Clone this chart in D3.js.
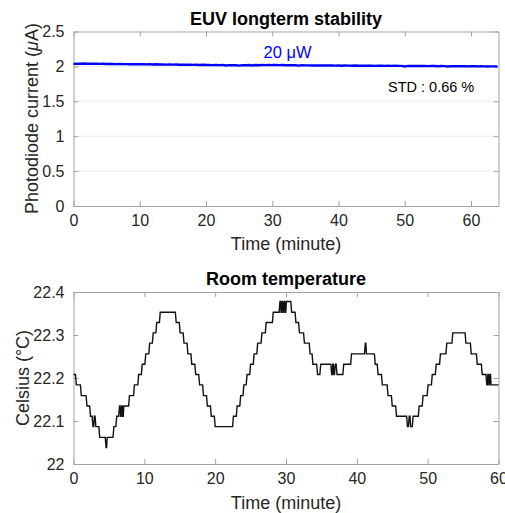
<!DOCTYPE html>
<html>
<head>
<meta charset="utf-8">
<script src="https://cdn.jsdelivr.net/npm/d3@7"></script>
<style>
  body { margin: 0; background: #fff; }
  text { font-family: "Liberation Sans", Arial, sans-serif; }
</style>
</head>
<body>
<div id="chart"></div>
<script>
// EUV photodiode current (uA), sampled every half minute
var euvTime = [0,0.5,1,1.5,2,2.5,3,3.5,4,4.5,5,5.5,6,6.5,7,7.5,8,8.5,9,9.5,10,10.5,
  11,11.5,12,12.5,13,13.5,14,14.5,15,15.5,16,16.5,17,17.5,18,18.5,19,19.5,20,20.5,21,21.5,
  22,22.5,23,23.5,24,24.5,25,25.5,26,26.5,27,27.5,28,28.5,29,29.5,30,30.5,31,31.5,32,32.5,
  33,33.5,34,34.5,35,35.5,36,36.5,37,37.5,38,38.5,39,39.5,40,40.5,41,41.5,42,42.5,43,43.5,
  44,44.5,45,45.5,46,46.5,47,47.5,48,48.5,49,49.5,50,50.5,51,51.5,52,52.5,53,53.5,54,54.5,
  55,55.5,56,56.5,57,57.5,58,58.5,59,59.5,60,60.5,61,61.5,62,62.5,63,63.5,64];
var euvCurrent = [2.036,2.040,2.039,2.041,2.038,2.039,2.037,2.038,2.036,2.037,2.035,
  2.034,2.035,2.033,2.034,2.032,2.033,2.031,2.033,2.030,2.032,2.031,
  2.029,2.031,2.028,2.030,2.027,2.029,2.026,2.028,2.025,2.027,2.024,
  2.025,2.023,2.025,2.022,2.023,2.021,2.023,2.020,2.022,2.019,2.021,
  2.018,2.019,2.012,2.018,2.016,2.017,2.011,2.018,2.016,2.019,2.013,
  2.019,2.016,2.020,2.018,2.021,2.019,2.020,2.018,2.019,2.017,2.018,
  2.016,2.017,2.011,2.016,2.014,2.015,2.013,2.015,2.012,2.014,2.013,
  2.012,2.013,2.011,2.012,2.010,2.012,2.011,2.010,2.012,2.009,2.011,
  2.010,2.009,2.011,2.008,2.010,2.009,2.008,2.010,2.007,2.009,2.008,
  2.007,1.999,2.008,2.006,2.007,2.005,2.007,2.006,2.004,2.006,2.005,
  2.003,2.005,2.004,1.998,2.004,2.003,2.002,2.004,2.003,2.001,2.003,
  2.002,2.000,2.002,2.001,1.999,2.001,2.000,1.999];

// room temperature (deg C): time of each sensor step and the level it steps to
var tempTime = [0,0.4,1.1,1.9,2.4,2.75,2.95,3.15,3.7,4.6,4.75,5.7,6.1,6.5,6.65,6.8,6.95,7.1,7.9,8.6,
  9.2,9.7,10.2,10.75,11.25,11.75,12.25,14.5,15.05,15.6,16.15,16.7,17.25,17.8,18.35,18.9,19.45,20.0,
  22.58,23.1,23.6,24.05,24.5,25.0,25.5,26.0,26.6,27.2,28.2,29.15,29.3,29.45,29.6,29.75,29.9,30.05,
  30.8,31.4,31.9,32.6,33.4,33.8,34.45,34.9,36.45,36.6,36.75,36.95,37.2,38.15,39.25,41.2,41.35,42.6,
  43.0,43.6,44.4,45.0,45.6,47.15,47.4,47.6,47.95,48.8,49.35,50.05,50.65,51.2,51.8,52.7,53.55,55.4,
  56.15,57.0,57.7,58.35,58.5,58.65,58.8,58.95,60];
var tempValue = [22.208,22.184,22.159,22.135,22.111,
  22.087,22.111,22.087,22.062,22.038,
  22.062,22.087,22.111,22.135,22.111,
  22.135,22.111,22.135,22.159,22.184,
  22.208,22.232,22.256,22.281,22.305,
  22.329,22.353,22.329,22.305,22.281,
  22.256,22.232,22.208,22.184,22.159,
  22.135,22.111,22.087,22.111,22.135,
  22.159,22.184,22.208,22.232,22.256,
  22.281,22.305,22.329,22.353,22.378,
  22.353,22.378,22.353,22.378,22.353,
  22.378,22.353,22.329,22.305,22.281,
  22.256,22.232,22.208,22.232,22.208,
  22.232,22.208,22.232,22.208,22.232,
  22.256,22.281,22.256,22.232,22.208,
  22.184,22.159,22.135,22.111,22.087,
  22.111,22.087,22.111,22.135,22.159,
  22.184,22.208,22.232,22.256,22.281,
  22.305,22.281,22.256,22.232,22.208,
  22.184,22.208,22.184,22.208,22.184,
  22.184];

var topXTicks = [0,10,20,30,40,50,60];
var topYTicks = [0,0.5,1,1.5,2,2.5];
var botXTicks = [0,10,20,30,40,50,60];
var botYTicks = [22,22.1,22.2,22.3,22.4];

var svgWidth = 505;
var svgHeight = 513;
var axisColor = "#a3a3a3";
var labelColor = "#262626";

var svg = d3.select("#chart")
            .append("svg")
            .attr("width", svgWidth)
            .attr("height", svgHeight);

// draws a matlab-like box with ticks on all four sides
function drawBox(xScale, yScale, xTicks, yTicks, grid, fmtY) {
    var g = svg.append("g");
    var x0 = xScale.range()[0], x1 = xScale.range()[1];
    var y0 = yScale.range()[0], y1 = yScale.range()[1];

    if (grid) {
        g.selectAll(".grid")
         .data(yTicks.slice(1, -1))
         .enter().append("line")
         .attr("x1", x0).attr("x2", x1)
         .attr("y1", d => yScale(d)).attr("y2", d => yScale(d))
         .attr("stroke", "#ebebeb");
    }

    var xBottom = d3.axisBottom(xScale).tickValues(xTicks).tickSizeInner(-5).tickSizeOuter(0).tickPadding(9);
    var xTop = d3.axisTop(xScale).tickValues(xTicks).tickSizeInner(-5).tickSizeOuter(0).tickFormat("");
    var yLeft = d3.axisLeft(yScale).tickValues(yTicks).tickSizeInner(-5).tickSizeOuter(0).tickPadding(9).tickFormat(fmtY);
    var yRight = d3.axisRight(yScale).tickValues(yTicks).tickSizeInner(-5).tickSizeOuter(0).tickFormat("");

    [[xBottom, `translate(0,${y0})`], [xTop, `translate(0,${y1})`],
     [yLeft, `translate(${x0},0)`], [yRight, `translate(${x1},0)`]].forEach(function(a) {
        var ax = g.append("g").attr("transform", a[1]).call(a[0]);
        ax.selectAll("path, line").attr("stroke", axisColor);
        ax.selectAll("text").attr("fill", labelColor).style("font-size", "16px")
          .style("font-family", "'Liberation Sans', Arial, sans-serif");
    });
    return g;
}

// ---------- top panel ----------
var xTop = d3.scaleLinear().domain([0, 64.15]).range([73.5, 498.5]);
var yTop = d3.scaleLinear().domain([0, 2.5]).range([206, 31.5]);

drawBox(xTop, yTop, topXTicks, topYTicks, true, d3.format("~g"));

var euvLine = d3.line()
                .x((d, i) => xTop(euvTime[i]))
                .y(d => yTop(d));
svg.append("path")
   .datum(euvCurrent)
   .attr("d", euvLine)
   .attr("fill", "none")
   .attr("stroke", "#0000ff")
   .attr("stroke-width", 2.4);

svg.append("text")
   .attr("x", 287.5).attr("y", 58)
   .attr("text-anchor", "middle")
   .attr("fill", "#0000ff")
   .style("font-size", "16.5px")
   .text("20 μW");

svg.append("text")
   .attr("x", 388).attr("y", 92)
   .attr("fill", "#000")
   .style("font-size", "14.5px")
   .text("STD : 0.66 %");

svg.append("text")
   .attr("x", 286).attr("y", 25)
   .attr("text-anchor", "middle")
   .style("font-size", "18px")
   .style("font-weight", "bold")
   .text("EUV longterm stability");

svg.append("text")
   .attr("x", 286).attr("y", 249.5)
   .attr("text-anchor", "middle")
   .attr("fill", labelColor)
   .style("font-size", "18px")
   .text("Time (minute)");

var yl = svg.append("text")
   .attr("transform", "translate(38,118.5) rotate(-90)")
   .attr("text-anchor", "middle")
   .attr("fill", labelColor)
   .style("font-size", "18px");
yl.append("tspan").text("Photodiode current (");
yl.append("tspan").style("font-style", "italic").text("μ");
yl.append("tspan").text("A)");

// ---------- bottom panel ----------
var xBot = d3.scaleLinear().domain([0, 60]).range([73.5, 498.5]);
var yBot = d3.scaleLinear().domain([22, 22.4]).range([464, 292]);

drawBox(xBot, yBot, botXTicks, botYTicks, false, d3.format("~g"));

// step line whose risers lean a little, like the logged samples
var tempPts = [[tempTime[0], tempValue[0]]];
for (var i = 1; i < tempTime.length; i++) {
    var lean = Math.min(0.12, (tempTime[i] - tempTime[i - 1]) / 2);
    tempPts.push([tempTime[i] - lean, tempValue[i - 1]]);
    tempPts.push([tempTime[i], tempValue[i]]);
}
var tempLine = d3.line()
                 .x(d => xBot(d[0]))
                 .y(d => yBot(d[1]));
svg.append("path")
   .datum(tempPts)
   .attr("d", tempLine)
   .attr("fill", "none")
   .attr("stroke", "#111")
   .attr("stroke-width", 1.4);

svg.append("text")
   .attr("x", 286).attr("y", 285)
   .attr("text-anchor", "middle")
   .style("font-size", "18px")
   .style("font-weight", "bold")
   .text("Room temperature");

svg.append("text")
   .attr("x", 286).attr("y", 509)
   .attr("text-anchor", "middle")
   .attr("fill", labelColor)
   .style("font-size", "18px")
   .text("Time (minute)");

svg.append("text")
   .attr("transform", "translate(29,378) rotate(-90)")
   .attr("text-anchor", "middle")
   .attr("fill", labelColor)
   .style("font-size", "18px")
   .text("Celsius (°C)");
</script>
</body>
</html>
